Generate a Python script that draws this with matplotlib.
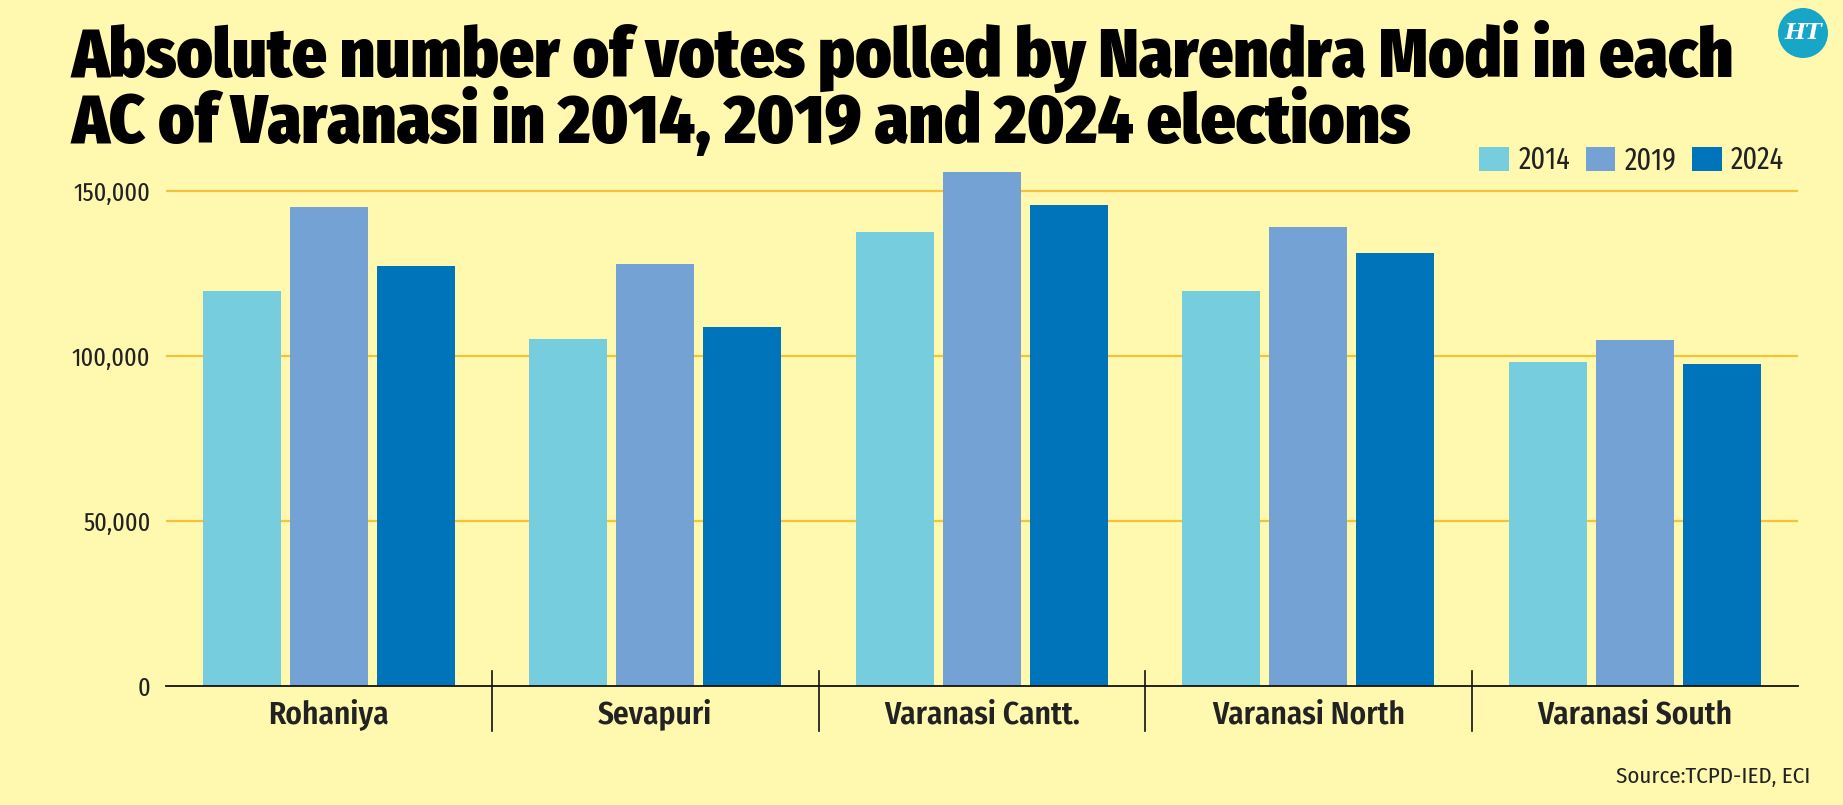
import numpy as np
import matplotlib
matplotlib.use("Agg")
import matplotlib.pyplot as plt
from matplotlib.patches import Ellipse

# данные
acs = ['Rohaniya', 'Sevapuri', 'Varanasi Cantt.', 'Varanasi North', 'Varanasi South']
years = ['2014', '2019', '2024']
votes_2014 = [119700, 105050, 137470, 119700, 98080]
votes_2019 = [145240, 127880, 155650, 139190, 104850]
votes_2024 = [127370, 108890, 145860, 131100, 97700]
yticks = [0, 50000, 100000, 150000]

colors = ['#76CDDE', '#74A2D4', '#0074BA']
bg = '#FFF8AF'
grid_col = '#F5C23A'

xcond = ['Fira Sans Extra Condensed', 'Fira Sans Condensed', 'DejaVu Sans']
cond = ['Fira Sans Condensed', 'Fira Sans Extra Condensed', 'DejaVu Sans']

fig = plt.figure(figsize=(18.43, 8.05), dpi=100, facecolor=bg)
ax = fig.add_axes([165.7/1843, 1 - 686/805, (1798 - 165.7)/1843, 528/805])
ax.set_facecolor(bg)

x = np.arange(len(acs))
w = 0.239
step = 0.2665
series = [votes_2014, votes_2019, votes_2024]
bars = []
for i, vals in enumerate(series):
    b = ax.bar(x + (i - 1)*step, vals, width=w, color=colors[i], zorder=3,
               label=years[i])
    bars.append(b)

ax.set_xlim(-0.5, len(acs) - 0.5)
ax.set_ylim(0, 160000)

# сетка
for t in yticks[1:]:
    ax.axhline(t, color=grid_col, lw=1.6, zorder=1)
ax.axhline(0, color='#111111', lw=1.3, zorder=4, clip_on=False)

for s in ax.spines.values():
    s.set_visible(False)

ax.set_yticks(yticks)
ax.set_yticklabels([f'{v:,}' for v in yticks], fontsize=19, family=xcond,
                   color='#222222')
ax.tick_params(axis='y', length=0, pad=11)
ax.set_xticks([])

# разделители групп
for k in range(1, len(acs)):
    ax.plot([k - 0.5, k - 0.5], [0.0284, -0.0852], color='#111111', lw=1.2,
            transform=ax.get_xaxis_transform(), clip_on=False, zorder=4)

for k, name in enumerate(acs):
    ax.text(k, -0.0712, name, transform=ax.get_xaxis_transform(),
            ha='center', va='baseline', fontsize=22.5, family=cond,
            fontweight='semibold', color='#222222')

# заголовок
fig.text(71.7/1843, 1 - 77/805, 'Absolute number of votes polled by Narendra Modi in each',
         fontsize=49, family=cond, fontweight='black', va='baseline', ha='left')
fig.text(71.7/1843, 1 - 142.7/805, 'AC of Varanasi in 2014, 2019 and 2024 elections',
         fontsize=49, family=cond, fontweight='black', va='baseline', ha='left')

# легенда
fig.legend(handles=bars, labels=years, loc='center right', ncol=3,
           bbox_to_anchor=(1784/1843, 1 - 160.5/805), bbox_transform=fig.transFigure,
           frameon=False, prop={'family': xcond, 'size': 22},
           handlelength=0.98, handleheight=0.85, handletextpad=0.3,
           columnspacing=0.5, borderpad=0, borderaxespad=0, labelcolor='#222222')

# источник
fig.text(1810/1843, 1 - 783/805, 'Source:TCPD-IED, ECI', fontsize=16.5, family=cond,
         ha='right', va='baseline', color='#222222')

# логотип HT
fig.patches.append(Ellipse((1803/1843, 1 - 33/805), 50/1843, 50/805,
                           transform=fig.transFigure, facecolor='#17A5C8',
                           edgecolor='none'))
fig.text(1803/1843, 1 - 33/805, 'HT', fontsize=16, family='DejaVu Serif',
         fontweight='bold', style='italic', color='white', ha='center', va='center')

plt.savefig('out.png', facecolor=bg)
